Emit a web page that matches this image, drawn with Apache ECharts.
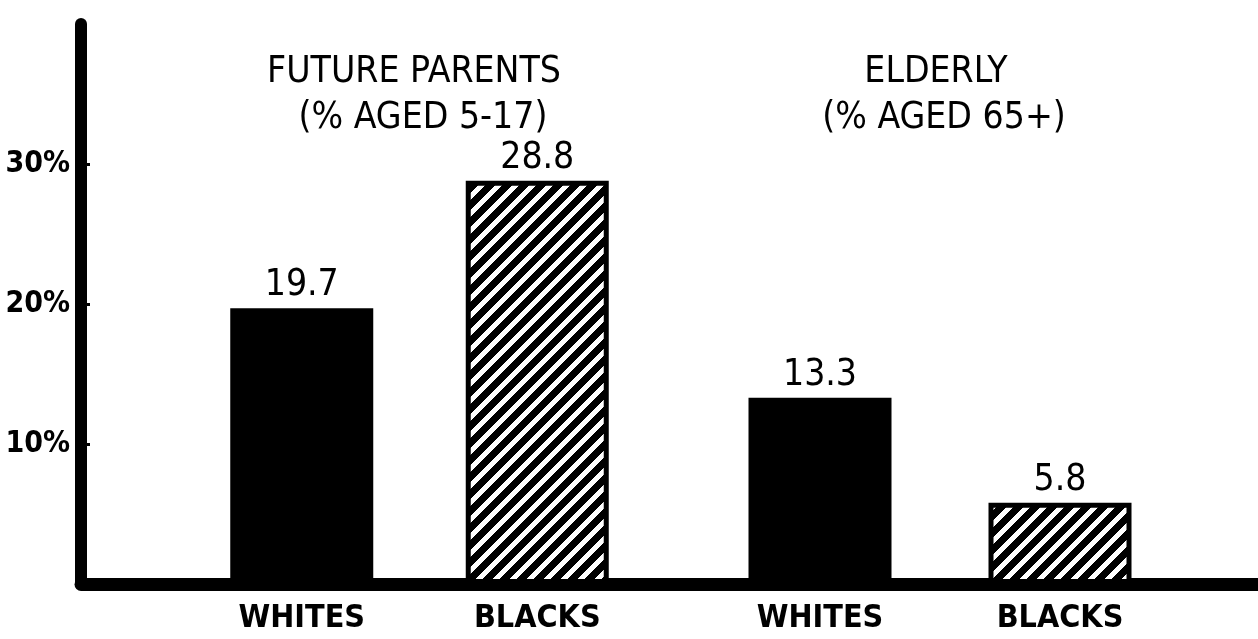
<!DOCTYPE html>
<html lang="en" style="height: 100%">
<head>
  <meta charset="utf-8">
  <title>Future parents and elderly</title>
  <script src="https://cdn.jsdelivr.net/npm/echarts@6/dist/echarts.min.js"></script>
</head>
<body style="height: 100%; margin: 0; background: #fff;">
  <div id="container" style="width: 1258px; height: 639px;"></div>
  <script type="text/javascript">
    // data
    var groups = ['FUTURE PARENTS', 'ELDERLY'];
    var groupNotes = ['(% AGED 5-17)', '(% AGED 65+)'];
    var races = ['WHITES', 'BLACKS'];
    var futureParents = [19.7, 28.8];
    var elderly = [13.3, 5.8];
    var yTicks = [10, 20, 30];

    var FONT = "'Liberation Sans Narrow', 'DejaVu Sans Condensed', sans-serif";

    // white diagonal stripes on black, like the hatched bars (pixel-filled so the tile has no seams)
    function makeHatch() {
      var size = 17, white = 7;
      var c = document.createElement('canvas');
      c.width = size;
      c.height = size;
      var ctx = c.getContext('2d');
      var img = ctx.createImageData(size, size);
      for (var y = 0; y < size; y++) {
        for (var x = 0; x < size; x++) {
          var on = ((x + y) % size) < white;
          var k = (y * size + x) * 4;
          var v = on ? 255 : 0;
          img.data[k] = v;
          img.data[k + 1] = v;
          img.data[k + 2] = v;
          img.data[k + 3] = 255;
        }
      }
      ctx.putImageData(img, 0, 0);
      return c;
    }
    var hatch = { image: makeHatch(), repeat: 'repeat' };

    function barData(values) {
      return values.map(function (v, i) {
        if (i === 0) {
          return { value: v, itemStyle: { color: '#000' } };
        }
        return { value: v, itemStyle: { color: hatch, borderColor: '#000', borderWidth: 5 } };
      });
    }

    var dom = document.getElementById('container');
    var myChart = echarts.init(dom, null, { renderer: 'canvas' });

    var gridTop = 24, gridBottom = 55;

    var barLabel = {
      show: true,
      position: 'top',
      distance: 4,
      color: '#000',
      fontFamily: FONT,
      fontSize: 37,
      formatter: '{c}'
    };

    var catAxis = function (idx) {
      return {
        type: 'category',
        gridIndex: idx,
        data: races,
        axisLine: { show: false },
        axisTick: { show: false },
        axisLabel: {
          margin: 19,
          color: '#000',
          fontFamily: FONT,
          fontWeight: 'bold',
          fontSize: 32
        }
      };
    };

    var hiddenY = function (idx) {
      return { type: 'value', gridIndex: idx, min: 0, max: 40, show: false };
    };

    var option = {
      backgroundColor: '#fff',
      animation: false,
      grid: [
        { left: 81, right: 0, top: gridTop, bottom: gridBottom, outerBoundsMode: 'none' },
        { left: 184, right: 1258 - 655, top: gridTop, bottom: gridBottom, outerBoundsMode: 'none' },
        { left: 700, right: 78, top: gridTop, bottom: gridBottom, outerBoundsMode: 'none' }
      ],
      xAxis: [
        {
          type: 'value',
          gridIndex: 0,
          min: 0,
          max: 1,
          axisLine: { show: true, lineStyle: { color: '#000', width: 13 } },
          axisTick: { show: false },
          axisLabel: { show: false },
          splitLine: { show: false }
        },
        catAxis(1),
        catAxis(2)
      ],
      yAxis: [
        {
          type: 'value',
          gridIndex: 0,
          min: 0,
          max: 40,
          interval: 10,
          axisLine: { show: true, lineStyle: { color: '#000', width: 12 } },
          axisTick: { show: true, inside: true, length: 9, customValues: yTicks, lineStyle: { color: '#000', width: 3 } },
          splitLine: { show: false },
          axisLabel: {
            margin: 11,
            color: '#000',
            fontFamily: FONT,
            fontWeight: 'bold',
            fontSize: 30,
            customValues: yTicks,
            formatter: '{value}%'
          }
        },
        hiddenY(1),
        hiddenY(2)
      ],
      graphic: [
        { type: 'text', x: 414, y: 72, style: { text: groups[0], font: '37px ' + FONT, fill: '#000', align: 'center', verticalAlign: 'middle' } },
        { type: 'text', x: 423, y: 118, style: { text: groupNotes[0], font: '37px ' + FONT, fill: '#000', align: 'center', verticalAlign: 'middle' } },
        { type: 'text', x: 936, y: 72, style: { text: groups[1], font: '37px ' + FONT, fill: '#000', align: 'center', verticalAlign: 'middle' } },
        { type: 'text', x: 944, y: 118, style: { text: groupNotes[1], font: '37px ' + FONT, fill: '#000', align: 'center', verticalAlign: 'middle' } }
      ],
      series: [
        {
          name: groups[0],
          type: 'bar',
          xAxisIndex: 1,
          yAxisIndex: 1,
          barWidth: 143,
          data: barData(futureParents),
          label: barLabel
        },
        {
          name: groups[1],
          type: 'bar',
          xAxisIndex: 2,
          yAxisIndex: 2,
          barWidth: 143,
          data: barData(elderly),
          label: barLabel
        }
      ]
    };

    myChart.setOption(option);
    window.addEventListener('resize', myChart.resize);
  </script>
</body>
</html>
